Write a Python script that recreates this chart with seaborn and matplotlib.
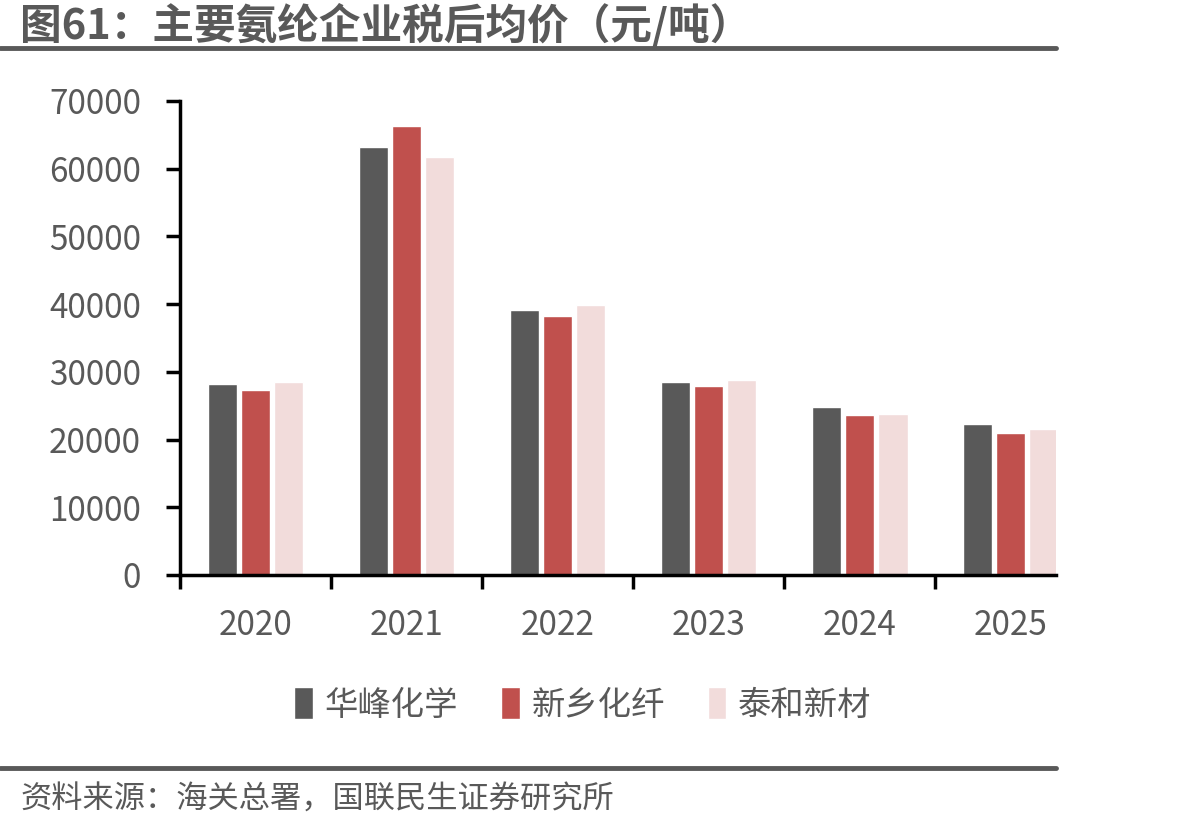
import pandas as pd
import numpy as np
import matplotlib
matplotlib.use("Agg")
import matplotlib.pyplot as plt
import seaborn as sns

# data
years = ["2020", "2021", "2022", "2023", "2024", "2025"]
huafeng = [28200, 63200, 39100, 28500, 24800, 22300]
xinxiang = [27300, 66300, 38200, 27900, 23600, 21000]
taihe = [28500, 61700, 39900, 28800, 23800, 21600]
companies = ["华峰化学", "新乡化纤", "泰和新材"]
colors = ["#595959", "#C0504D", "#F2DCDB"]

df = pd.DataFrame({
    "year": years * 3,
    "company": [companies[0]] * 6 + [companies[1]] * 6 + [companies[2]] * 6,
    "price": huafeng + xinxiang + taihe,
})

sns.set_theme(style="white")
plt.rcParams["font.family"] = ["Noto Sans CJK SC", "DejaVu Sans"]
grey = "#595959"

fig = plt.figure(figsize=(11.93, 8.3), dpi=100)
ax = fig.add_axes([180 / 1193, 1 - 575 / 830, (1056 - 180) / 1193, (575 - 101) / 830])

sns.barplot(data=df, x="year", y="price", hue="company", palette=colors,
            width=0.66, gap=0.12, ax=ax, saturation=1, legend=True)

ax.set_ylim(0, 70000)
ax.set_yticks(np.arange(0, 70001, 10000))
ax.set_yticklabels([str(v) for v in range(0, 70001, 10000)])
ax.set_xticks(range(6))
ax.set_xticklabels(years)
ax.set_xticks(np.arange(-0.5, 5.6, 1), minor=True)
ax.tick_params(axis="x", which="major", length=0, pad=24, labelsize=24, labelcolor=grey)
ax.tick_params(axis="x", which="minor", length=10, width=2.5, color="black", direction="out", bottom=True)
ax.tick_params(axis="y", length=10, width=2.5, color="black", direction="out", left=True,
               pad=18, labelsize=24, labelcolor=grey)
ax.set_xlabel("")
ax.set_ylabel("")
for s in ["top", "right"]:
    ax.spines[s].set_visible(False)
for s in ["left", "bottom"]:
    ax.spines[s].set_color("black")
    ax.spines[s].set_linewidth(2.5)

leg = ax.legend(loc="center", bbox_to_anchor=(583 / 1193, 1 - 705 / 830),
                bbox_transform=fig.transFigure, ncol=3, frameon=False,
                fontsize=24, handlelength=0.55, handleheight=1.1, handletextpad=0.35,
                columnspacing=1.3)
for t in leg.get_texts():
    t.set_color(grey)

# title and source
fig.text(20 / 1193, 1 - 25 / 830, "图61：主要氨纶企业税后均价（元/吨）", fontsize=30,
         fontweight="heavy", color=grey, va="center", ha="left")
fig.add_artist(plt.Line2D([0, 1056 / 1193], [1 - 48 / 830] * 2, color=grey, lw=3.5))
fig.add_artist(plt.Line2D([0, 1056 / 1193], [1 - 768 / 830] * 2, color=grey, lw=3.5))
fig.text(20 / 1193, 1 - 800 / 830, "资料来源：海关总署，国联民生证券研究所", fontsize=22.5,
         color=grey, va="center", ha="left")

# the original chart is cut off at the right edge
ax.set_xlim(-0.5, 5.3)
fig.savefig("out.png", dpi=100)
